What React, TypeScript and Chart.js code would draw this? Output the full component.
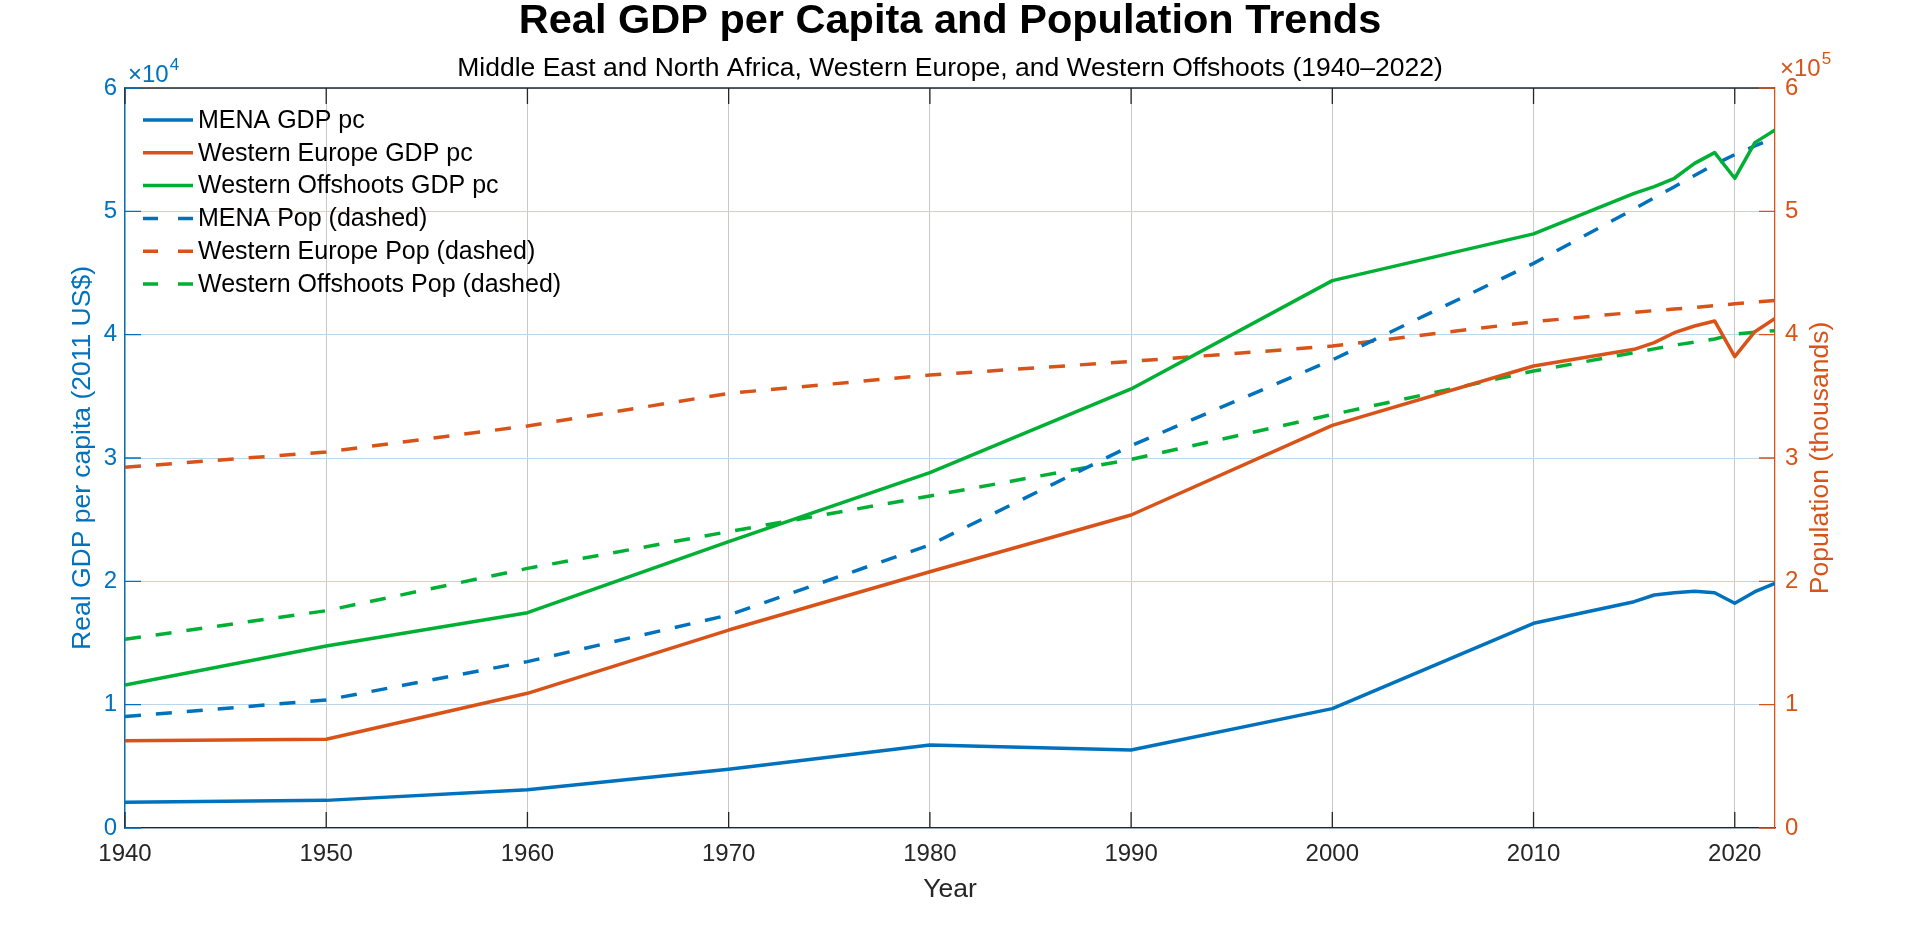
import React, { useEffect, useRef } from 'react';
import { Chart, registerables } from 'chart.js';

Chart.register(...registerables);

// ---------------- data ----------------
const years = [1940, 1950, 1960, 1970, 1980, 1990, 2000, 2010, 2015, 2016, 2017, 2018, 2019, 2020, 2021, 2022];

// Real GDP per capita (2011 US$)
const menaGdp = [2080, 2240, 3100, 4760, 6730, 6330, 9680, 16600, 18350, 18890, 19080, 19190, 19080, 18220, 19160, 19840];
const weGdp = [7080, 7190, 10920, 16050, 20780, 25380, 32650, 37460, 38810, 39350, 40160, 40700, 41110, 38220, 40240, 41320];
const woGdp = [11600, 14760, 17460, 23220, 28810, 35600, 44380, 48170, 51460, 52000, 52680, 53890, 54760, 52680, 55570, 56590];

// Population (thousands)
const menaPop = [90300, 103800, 134900, 172700, 229500, 310000, 379500, 457800, 502000, 511000, 520000, 529000, 538000, 546000, 553000, 560000];
const wePop = [292500, 304900, 326000, 352400, 367300, 378300, 390800, 410500, 418100, 419500, 420800, 422000, 423500, 425000, 426500, 427800];
const woPop = [153000, 176200, 210500, 240300, 269200, 298900, 335200, 370500, 385400, 388500, 391500, 394000, 396500, 400500, 402000, 403200];

const seriesLabels = [
  'MENA GDP pc',
  'Western Europe GDP pc',
  'Western Offshoots GDP pc',
  'MENA Pop (dashed)',
  'Western Europe Pop (dashed)',
  'Western Offshoots Pop (dashed)',
];

const xTickValues = [1940, 1950, 1960, 1970, 1980, 1990, 2000, 2010, 2020];
const yLeftTicks = [0, 10000, 20000, 30000, 40000, 50000, 60000];
const yRightTicks = [0, 100000, 200000, 300000, 400000, 500000, 600000];

const titleText = 'Real GDP per Capita and Population Trends';
const subtitleText = 'Middle East and North Africa, Western Europe, and Western Offshoots (1940–2022)';
const xTitle = 'Year';
const yLeftTitle = 'Real GDP per capita (2011 US$)';
const yRightTitle = 'Population (thousands)';

// ---------------- style ----------------
const BLUE = '#0072BD';
const ORANGE = '#D95319';
const GREEN = '#00B035';
const DARK = '#262626';
const FONT = "'Liberation Sans', Arial, Helvetica, sans-serif";
const DASH = [16, 15];
const LABEL_SIZE = 26.5;

const toPts = (vals: number[]) => years.map((x, i) => ({ x, y: vals[i] }));

const overlayPlugin = {
  id: 'matlabOverlay',
  afterDraw(chart: any) {
    const ctx: CanvasRenderingContext2D = chart.ctx;
    const ca = chart.chartArea;
    const xs = chart.scales.x;
    const yl = chart.scales.y;
    const yr = chart.scales.y1;
    const TL = 16;
    ctx.save();

    // top box line
    ctx.lineWidth = 1.3;
    ctx.strokeStyle = DARK;
    ctx.beginPath();
    ctx.moveTo(ca.left, ca.top);
    ctx.lineTo(ca.right, ca.top);
    ctx.stroke();

    // inward x ticks (bottom and top)
    ctx.beginPath();
    xTickValues.forEach((v) => {
      const px = xs.getPixelForValue(v);
      ctx.moveTo(px, ca.bottom);
      ctx.lineTo(px, ca.bottom - TL);
      ctx.moveTo(px, ca.top);
      ctx.lineTo(px, ca.top + TL);
    });
    ctx.stroke();

    // inward left ticks
    ctx.strokeStyle = BLUE;
    ctx.beginPath();
    yLeftTicks.forEach((v) => {
      const py = yl.getPixelForValue(v);
      ctx.moveTo(ca.left, py);
      ctx.lineTo(ca.left + TL, py);
    });
    ctx.stroke();

    // inward right ticks
    ctx.strokeStyle = ORANGE;
    ctx.beginPath();
    yRightTicks.forEach((v) => {
      const py = yr.getPixelForValue(v);
      ctx.moveTo(ca.right, py);
      ctx.lineTo(ca.right - TL, py);
    });
    ctx.stroke();

    // exponent labels
    ctx.textAlign = 'left';
    ctx.textBaseline = 'alphabetic';
    ctx.fillStyle = BLUE;
    ctx.font = `24px ${FONT}`;
    const lx = ca.left + 3;
    const ly = ca.top - 6;
    ctx.fillText('×10', lx, ly);
    const lw = ctx.measureText('×10').width;
    ctx.font = `17px ${FONT}`;
    ctx.fillText('4', lx + lw + 1, ly - 12);

    ctx.fillStyle = ORANGE;
    ctx.font = `24px ${FONT}`;
    const rx = ca.right + 5;
    const ry = ca.top - 12;
    ctx.fillText('×10', rx, ry);
    const rw = ctx.measureText('×10').width;
    ctx.font = `17px ${FONT}`;
    ctx.fillText('5', rx + rw + 1, ry - 12);

    // right axis title (reads bottom-to-top)
    ctx.save();
    ctx.translate(ca.right + 46, (ca.top + ca.bottom) / 2);
    ctx.rotate(-Math.PI / 2);
    ctx.textAlign = 'center';
    ctx.textBaseline = 'middle';
    ctx.fillStyle = ORANGE;
    ctx.font = `${LABEL_SIZE}px ${FONT}`;
    ctx.fillText(yRightTitle, 0, 0);
    ctx.restore();

    // legend (no box), from datasets
    const x0 = ca.left + 18;
    const lineLen = 50;
    chart.data.datasets.forEach((ds: any, i: number) => {
      const cy = ca.top + 32 + i * 32.8;
      ctx.strokeStyle = ds.borderColor;
      ctx.lineWidth = 3.5;
      ctx.lineCap = 'butt';
      ctx.setLineDash(ds.borderDash && ds.borderDash.length ? [15, 20] : []);
      ctx.beginPath();
      ctx.moveTo(x0, cy);
      ctx.lineTo(x0 + lineLen, cy);
      ctx.stroke();
      ctx.setLineDash([]);
      ctx.fillStyle = '#000';
      ctx.font = `25px ${FONT}`;
      ctx.textAlign = 'left';
      ctx.textBaseline = 'middle';
      ctx.fillText(ds.label, x0 + lineLen + 5, cy + 1);
    });

    ctx.restore();
  },
};

export default function App() {
  const ref = useRef<HTMLCanvasElement | null>(null);

  useEffect(() => {
    document.body.style.margin = '0';
    const canvas = ref.current;
    if (!canvas) return;
    Chart.defaults.font.family = FONT;

    const mk = (label: string, vals: number[], color: string, axis: string, dashed: boolean) => ({
      label,
      data: toPts(vals),
      borderColor: color,
      backgroundColor: color,
      borderWidth: 3.5,
      borderDash: dashed ? DASH : [],
      borderJoinStyle: 'round' as const,
      borderCapStyle: 'butt' as const,
      pointRadius: 0,
      pointHoverRadius: 0,
      tension: 0,
      fill: false,
      yAxisID: axis,
    });

    const chart = new Chart(canvas, {
      type: 'line',
      data: {
        datasets: [
          mk(seriesLabels[0], menaGdp, BLUE, 'y', false),
          mk(seriesLabels[1], weGdp, ORANGE, 'y', false),
          mk(seriesLabels[2], woGdp, GREEN, 'y', false),
          mk(seriesLabels[3], menaPop, BLUE, 'y1', true),
          mk(seriesLabels[4], wePop, ORANGE, 'y1', true),
          mk(seriesLabels[5], woPop, GREEN, 'y1', true),
        ],
      },
      options: {
        responsive: false,
        animation: false,
        events: [],
        layout: { padding: 0 },
        plugins: {
          legend: { display: false },
          tooltip: { enabled: false },
          title: {
            display: true,
            text: titleText,
            color: '#000',
            fullSize: false,
            font: { size: 41.5, weight: 'bold', family: FONT, lineHeight: 1.0 },
            padding: { top: 1.3, bottom: 0 },
          },
          subtitle: {
            display: true,
            text: subtitleText,
            color: '#000',
            fullSize: false,
            font: { size: LABEL_SIZE, family: FONT, lineHeight: 1.2 },
            padding: { top: 10.3, bottom: 3.1 },
          },
        },
        scales: {
          x: {
            type: 'linear',
            min: 1940,
            max: 2022,
            afterBuildTicks: (s: any) => {
              s.ticks = xTickValues.map((v) => ({ value: v }));
            },
            afterFit: (s: any) => {
              s.height = 98;
            },
            ticks: {
              color: DARK,
              font: { size: 24, family: FONT },
              padding: 12,
              maxRotation: 0,
              autoSkip: false,
              callback: (v: any) => String(v),
            },
            grid: { color: '#c9c9c9', lineWidth: 1, drawTicks: false },
            border: { color: DARK, width: 1.3 },
            title: {
              display: true,
              text: xTitle,
              color: DARK,
              font: { size: LABEL_SIZE, family: FONT, lineHeight: 1.2 },
              padding: { top: 0, bottom: 20.2 },
            },
          },
          y: {
            type: 'linear',
            position: 'left',
            min: 0,
            max: 60000,
            afterBuildTicks: (s: any) => {
              s.ticks = yLeftTicks.map((v) => ({ value: v }));
            },
            afterFit: (s: any) => {
              s.width = 125;
            },
            ticks: {
              color: BLUE,
              font: { size: 24, family: FONT },
              padding: 8,
              callback: (v: any) => String(Number(v) / 10000),
            },
            grid: { color: '#bcd6ea', lineWidth: 1, drawTicks: false },
            border: { color: BLUE, width: 1.3 },
            title: {
              display: true,
              text: yLeftTitle,
              color: BLUE,
              font: { size: LABEL_SIZE, family: FONT, lineHeight: 1.2 },
              padding: { top: 67.1, bottom: 0 },
            },
          },
          y1: {
            type: 'linear',
            position: 'right',
            min: 0,
            max: 600000,
            afterBuildTicks: (s: any) => {
              s.ticks = yRightTicks.map((v) => ({ value: v }));
            },
            afterFit: (s: any) => {
              s.width = 145;
            },
            ticks: {
              color: ORANGE,
              font: { size: 24, family: FONT },
              padding: 10,
              callback: (v: any) => String(Number(v) / 100000),
            },
            grid: { display: false, drawTicks: false },
            border: { color: ORANGE, width: 1.3 },
          },
        },
      },
      plugins: [overlayPlugin],
    });

    return () => {
      chart.destroy();
    };
  }, []);

  return (
    <div style={{ position: 'fixed', left: 0, top: 0, width: 1920, height: 926, background: '#fff' }}>
      <canvas ref={ref} width={1920} height={926} style={{ width: 1920, height: 926, display: 'block' }} />
    </div>
  );
}
